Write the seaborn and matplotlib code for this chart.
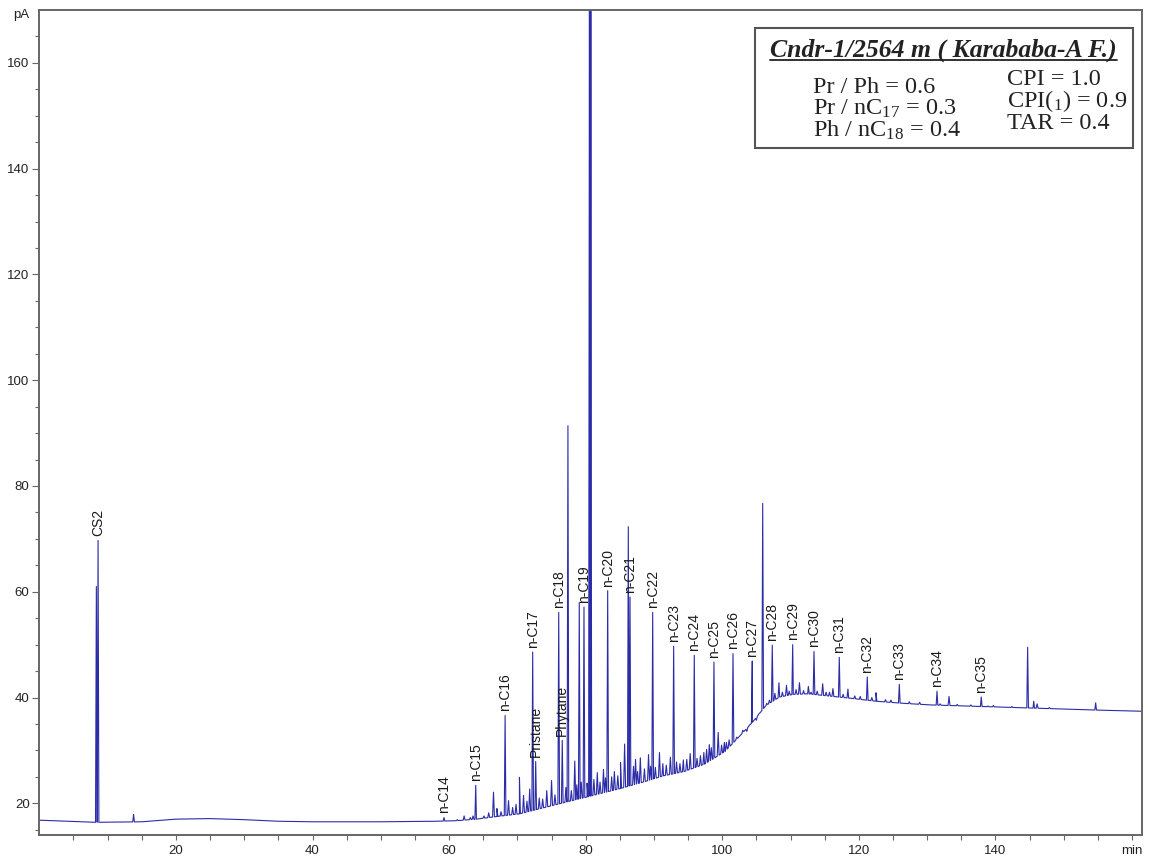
import numpy as np
import pandas as pd
import matplotlib
matplotlib.use("Agg")
import matplotlib.pyplot as plt
from matplotlib.patches import Rectangle
from matplotlib.lines import Line2D
from matplotlib.ticker import FixedLocator
import seaborn as sns

# ---------------- data ----------------
baseline_t = [0, 8, 15, 20, 25, 30, 35, 40, 50, 58, 61, 64, 67, 70.3, 75.2, 80.2, 85.1,
              88.4, 91.4, 94.4, 97.4, 100.4, 102.4, 104.4, 106.4, 108.4, 110.4, 112.5,
              115.5, 118.5, 122.5, 126.5, 130.5, 135.5, 140.5, 145.5, 150.5, 155.5, 161.5]
baseline_v = [16.8, 16.4, 16.5, 17.0, 17.1, 16.9, 16.6, 16.5, 16.5, 16.6, 16.7, 17.0, 17.5,
              18.0, 19.6, 21.2, 22.8, 24.0, 25.2, 26.0, 27.4, 29.8, 32.5, 35.3, 38.5, 40.1,
              40.6, 40.7, 40.3, 39.9, 39.3, 38.9, 38.6, 38.4, 38.2, 38.0, 37.8, 37.6, 37.4]

peak_names = ["CS2", "n-C14", "n-C15", "n-C16", "n-C17", "Pristane", "n-C18", "Phytane",
              "n-C19", "n-C20", "n-C21", "n-C22", "n-C23", "n-C24", "n-C25", "n-C26",
              "n-C27", "n-C28", "n-C29", "n-C30", "n-C31", "n-C32", "n-C33", "n-C34", "n-C35"]
peak_t = [8.6, 59.25, 63.9, 68.2, 72.24, 72.68, 76.05, 76.57, 79.75, 83.22, 86.49, 89.81,
          92.88, 95.9, 98.78, 101.57, 104.39, 107.32, 110.31, 113.43, 117.13, 121.23,
          125.92, 131.44, 137.92]
peak_h = [69.7, 17.3, 23.4, 36.6, 48.6, 27.9, 56.1, 31.9, 57.1, 60.2, 59.0, 56.1, 49.7,
          48.0, 46.7, 48.3, 46.9, 49.9, 50.0, 48.7, 47.6, 43.9, 42.5, 41.2, 40.1]

other_t = [8.35, 13.8, 77.4, 79.06, 80.55, 80.75, 86.24, 105.92, 144.71, 145.6, 154.67]
other_h = [61.0, 17.9, 91.4, 58.0, 175.0, 175.0, 72.3, 76.7, 49.5, 39.3, 39.0]

minor_t = [61.2, 62.2, 63.1, 63.5, 65.1, 65.8, 66.5, 67.0, 67.6, 68.7, 69.3, 69.8, 70.3,
           70.9, 71.4, 71.8, 73.2, 73.7, 74.3, 75.0, 75.5, 77.1, 77.9, 78.4, 78.7, 79.35,
           80.2, 81.2, 81.7, 82.1, 82.6, 82.9, 83.8, 84.2, 84.7, 85.1, 85.7, 87.0, 87.3,
           87.6, 88.0, 88.6, 89.2, 89.5, 90.2, 90.8, 91.3, 91.8, 92.4, 93.3, 93.8, 94.3,
           94.8, 95.3, 96.3, 96.8, 97.3, 97.7, 98.1, 98.4, 99.4, 99.9, 100.3, 100.6, 101.0,
           102.1, 102.6, 103.0, 103.6, 104.0, 105.0, 105.4, 106.5, 106.9, 107.7, 108.3,
           108.8, 109.4, 109.8, 110.8, 111.3, 111.9, 112.6, 113.0, 113.9, 114.7, 115.2,
           115.7, 116.2, 117.7, 118.4, 119.4, 120.2, 121.9, 122.5, 123.9, 124.7, 127.4,
           128.9, 131.9, 133.2, 134.4, 136.4, 138.9, 139.7, 142.4, 146.1, 147.9]
minor_h = [16.9, 17.6, 17.3, 17.6, 17.6, 18.2, 22.1, 19.0, 18.4, 20.5, 19.2, 19.8, 24.9,
           21.5, 20.4, 22.7, 21.0, 20.8, 22.4, 24.3, 21.6, 23.0, 22.4, 28.0, 23.5, 24.0,
           23.8, 24.5, 25.8, 24.0, 26.4, 24.8, 25.0, 26.0, 25.2, 27.7, 31.2, 27.0, 28.3,
           26.0, 28.6, 26.5, 29.2, 27.0, 26.8, 29.6, 27.5, 27.2, 28.7, 27.8, 27.5, 28.2,
           28.3, 29.4, 28.5, 29.0, 29.6, 30.2, 31.1, 30.5, 33.4, 31.0, 31.5, 31.5, 32.0,
           32.5, 32.8, 33.8, 33.6, 34.8, 35.7, 37.0, 38.9, 39.5, 40.8, 42.8, 41.0, 42.3,
           41.2, 41.5, 42.8, 41.3, 42.1, 41.0, 41.2, 42.6, 41.0, 41.0, 41.7, 40.6, 41.6,
           40.3, 40.2, 40.0, 40.9, 39.6, 39.5, 39.2, 39.1, 38.8, 40.2, 38.7, 38.6, 38.4,
           38.5, 38.3, 38.8, 38.1]

x_major = [20, 40, 60, 80, 100, 120, 140, 160]
x_labels = ["20", "40", "60", "80", "100", "120", "140", "min"]
y_major = [20, 40, 60, 80, 100, 120, 140, 160]

title_text = "Cndr-1/2564 m ( Karababa-A F.)"
left_col = ["Pr / Ph = 0.6", r"Pr / nC$\mathregular{_{17}}$ = 0.3", r"Ph / nC$\mathregular{_{18}}$ = 0.4"]
right_col = ["CPI = 1.0", r"CPI($\mathregular{_{1}}$) = 0.9", "TAR = 0.4"]

# ---------------- build trace from baseline + peaks ----------------
bt = np.array(baseline_t, float)
bv = np.array(baseline_v, float)

def peak_points(ts, hs, w):
    pts = []
    for t, h in zip(ts, hs):
        pts.append((t - w, np.interp(t - w, bt, bv)))
        pts.append((t, h))
        pts.append((t + w, np.interp(t + w, bt, bv)))
    return pts

pts = list(zip(bt, bv))
pts += peak_points(peak_t, peak_h, 0.12)
pts += peak_points(other_t, other_h, 0.12)
pts += peak_points(minor_t, minor_h, 0.14)
pts.sort(key=lambda p: p[0])
trace = pd.DataFrame(pts, columns=["time", "signal"])

# ---------------- plot ----------------
sns.set_theme(style="ticks")
plt.rcParams["font.family"] = ["Liberation Sans", "DejaVu Sans"]
plt.rcParams["mathtext.fontset"] = "custom"
plt.rcParams["mathtext.rm"] = "Liberation Serif"

fig = plt.figure(figsize=(11.5, 8.58), dpi=100)
ax = fig.add_axes([0.0342, 0.0268, 0.9591, 0.9615])

sns.lineplot(data=trace, x="time", y="signal", estimator=None, sort=False,
             color="#2c2ca8", lw=0.8, ax=ax)

ax.set_xlim(0, 161.5)
ax.set_ylim(14, 170)
ax.set_xlabel("")
ax.set_ylabel("")

ax.xaxis.set_major_locator(FixedLocator(x_major))
ax.set_xticklabels(x_labels)
ax.xaxis.set_minor_locator(FixedLocator([v for v in range(5, 161, 5) if v not in x_major]))
ax.yaxis.set_major_locator(FixedLocator(y_major))
ax.yaxis.set_minor_locator(FixedLocator([v for v in range(15, 170, 5) if v not in y_major]))

for side in ["left", "right", "top", "bottom"]:
    ax.spines[side].set_color("#666666")
    ax.spines[side].set_linewidth(1.4)
ax.tick_params(axis="x", which="both", length=3.5, width=0.8, color="#666666",
               labelsize=9.5, pad=4, labelcolor="#222222")
ax.tick_params(axis="y", which="major", length=5, width=0.8, color="#666666",
               labelsize=9.5, pad=2, labelcolor="#222222")
ax.tick_params(axis="y", which="minor", length=3, width=0.8, color="#666666")

ax.text(-0.016, 0.994, "pA", transform=ax.transAxes, ha="center", va="center",
        fontsize=9.5, color="#222222")

# peak labels
for name, t, h in zip(peak_names, peak_t, peak_h):
    ax.annotate(name, xy=(t, h), xytext=(0, 3), textcoords="offset points",
                rotation=90, ha="center", va="bottom", fontsize=10, color="#1a1a1a")

# info box
ax.add_patch(Rectangle((0.649, 0.8327), 0.3427, 0.1453, transform=ax.transAxes,
                       fc="white", ec="#555555", lw=1.5, zorder=5))
serif = ["Liberation Serif", "DejaVu Serif"]
ax.text(0.8196, 0.9434, title_text, transform=ax.transAxes, ha="center", va="baseline",
        fontsize=18.5, fontweight="bold", fontstyle="italic", family=serif,
        color="#222222", zorder=6)
ax.add_line(Line2D([0.6624, 0.9768], [0.9394, 0.9394], transform=ax.transAxes,
                   color="#222222", lw=1.3, zorder=6))
for s, y in zip(left_col, [0.899, 0.8727, 0.8464]):
    ax.text(0.7014, y, s, transform=ax.transAxes, ha="left", va="baseline",
            fontsize=17.5, family=serif, color="#222222", zorder=6)
for s, y in zip(right_col, [0.9091, 0.8824, 0.8558]):
    ax.text(0.8771, y, s, transform=ax.transAxes, ha="left", va="baseline",
            fontsize=17.5, family=serif, color="#222222", zorder=6)

fig.savefig("out.png", dpi=100)
